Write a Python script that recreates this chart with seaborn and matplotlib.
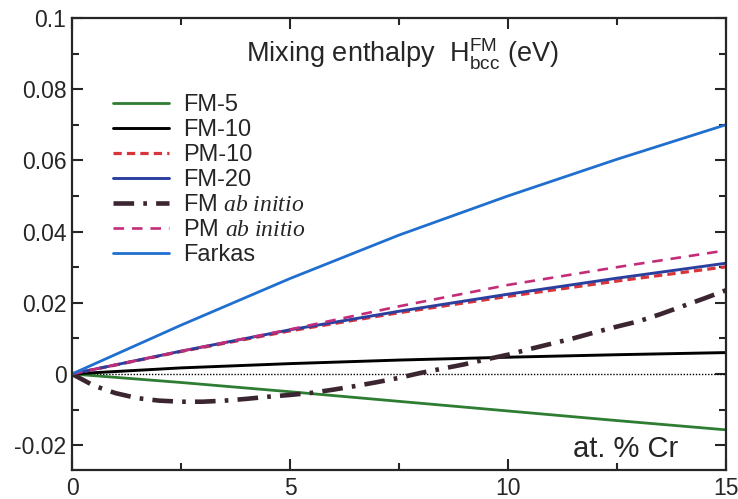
# Mixing enthalpy of bcc Fe-Cr vs Cr concentration

import matplotlib
matplotlib.use("Agg")
import matplotlib.pyplot as plt
import seaborn as sns

# concentration grid (at. % Cr)
x = [0, 2.5, 5, 7.5, 10, 12.5, 15]

fm5 = [0, -0.0024, -0.0050, -0.0077, -0.0104, -0.0131, -0.0157]
fm10 = [0, 0.0017, 0.0029, 0.0039, 0.0047, 0.0054, 0.0060]
pm10 = [0, 0.0063, 0.0121, 0.0172, 0.0218, 0.0261, 0.0301]
fm20 = [0, 0.0064, 0.0124, 0.0176, 0.0224, 0.0269, 0.0311]
pm_ab = [0, 0.0064, 0.0125, 0.0190, 0.0250, 0.0300, 0.0347]
farkas = [0, 0.0137, 0.0268, 0.0390, 0.0500, 0.0603, 0.0700]

# FM ab initio curve has a minimum, read on a finer grid
x_ab = [0, 0.5, 1, 1.5, 2, 2.5, 3, 3.5, 4, 4.5, 5, 5.5, 6, 6.5, 7, 7.5,
        8, 8.5, 9, 9.5, 10, 10.5, 11, 11.5, 12, 12.5, 13, 13.5, 14, 14.5, 15]
fm_ab = [0, -0.0033, -0.0054, -0.0068, -0.0075, -0.0078, -0.0078, -0.0075,
         -0.0070, -0.0064, -0.0059, -0.0053, -0.0044, -0.0034, -0.0023, -0.0011,
         0.0003, 0.0015, 0.0027, 0.0041, 0.0054, 0.0070, 0.0085, 0.0100,
         0.0117, 0.0133, 0.0148, 0.0168, 0.0190, 0.0212, 0.0235]

xticks = [0, 5, 10, 15]
xticklabels = ["0", "5", "10", "15"]
yticks = [-0.02, 0, 0.02, 0.04, 0.06, 0.08, 0.1]
yticklabels = ["-0.02", "0", "0.02", "0.04", "0.06", "0.08", "0.1"]

sns.set_style("ticks")
plt.rcParams['font.family'] = ['Liberation Sans', 'DejaVu Sans']
plt.rcParams['mathtext.fontset'] = 'custom'
plt.rcParams['mathtext.rm'] = 'Liberation Sans'
plt.rcParams['mathtext.it'] = 'Liberation Serif:italic'

fig = plt.figure(figsize=(7.38, 4.99), dpi=100)
ax = fig.add_axes([0.0976, 0.058, 0.886, 0.906])

ax.axhline(0, color="black", lw=1.0, ls=(0, (1, 1.2)), zorder=1)

sns.lineplot(x=x, y=fm5, ax=ax, color="#2e7d32", lw=2.0, label="FM-5")
sns.lineplot(x=x, y=fm10, ax=ax, color="black", lw=2.1, label="FM-10")
sns.lineplot(x=x, y=pm10, ax=ax, color="#d8343a", lw=2.3, label="PM-10")
ax.lines[-1].set_dashes((2.6, 1.6))
sns.lineplot(x=x, y=fm20, ax=ax, color="#2a3f9e", lw=2.1, label="FM-20")
sns.lineplot(x=x_ab, y=fm_ab, ax=ax, color="#3b2530", lw=3.3,
             label=r"FM $\mathit{ab\ initio}$")
ax.lines[-1].set_dashes((4.5, 2.0, 0.8, 2.0))
sns.lineplot(x=x, y=pm_ab, ax=ax, color="#c42c78", lw=1.9,
             label=r"PM $\mathit{ab\ initio}$")
ax.lines[-1].set_dashes((4, 3))
sns.lineplot(x=x, y=farkas, ax=ax, color="#1f6fcf", lw=2.0, label="Farkas")

ax.set_xlim(0, 15)
ax.set_ylim(-0.027, 0.1)
ax.set_xticks(xticks)
ax.set_xticklabels(xticklabels)
ax.set_yticks(yticks)
ax.set_yticklabels(yticklabels)
ax.set_xticks([2.5, 7.5, 12.5], minor=True)
ax.set_yticks([-0.01, 0.01, 0.03, 0.05, 0.07, 0.09], minor=True)
ax.tick_params(which="both", direction="in", top=True, right=True,
               labelsize=16.5, width=1.5)
ax.tick_params(axis="x", pad=5)
ax.tick_params(axis="y", pad=4)
ax.tick_params(which="major", length=8)
ax.tick_params(which="minor", length=5)
for s in ax.spines.values():
    s.set_linewidth(1.6)
ax.set_xlabel("")
ax.set_ylabel("")

ax.text(0.506, 0.92, r"Mixing enthalpy  $\mathrm{H^{FM}_{bcc}}$ (eV)",
        transform=ax.transAxes, ha="center", va="center", fontsize=19.5)
ax.text(12.7, -0.021, "at. % Cr", ha="center", va="center", fontsize=21)

ax.legend(loc="upper left", bbox_to_anchor=(0.063, 0.832), frameon=False,
          fontsize=17, handlelength=2.35, handletextpad=0.6,
          labelspacing=0.13, borderpad=0, borderaxespad=0)

plt.savefig("out.png", dpi=100)
